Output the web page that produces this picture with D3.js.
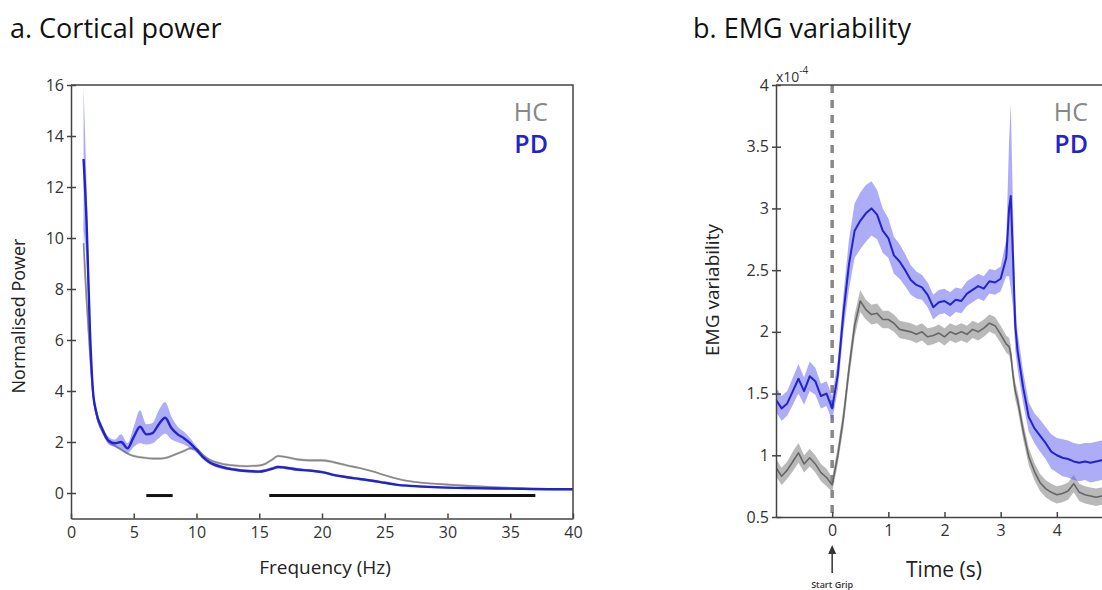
<!DOCTYPE html>
<html>
<head>
<meta charset="utf-8">
<script src="https://cdn.jsdelivr.net/npm/d3@7"></script>
<style>
  body { margin: 0; background: #fff; }
  text { font-family: "Open Sans", sans-serif; }
</style>
</head>
<body>
<svg id="fig" width="1102" height="590"></svg>
<script>
// a. cortical power spectrum
var freqHz = [1, 1.25, 1.5, 1.75, 2, 2.5, 3, 3.5, 4, 4.5, 5, 5.5, 6, 6.5, 7, 7.5, 8, 8.5, 9, 9.5, 10, 10.5, 11, 12, 13, 14, 15, 15.5, 16, 16.5, 17, 18, 19, 20, 21, 22, 23, 24, 25, 26, 27, 28, 30, 32, 35, 38, 40];
var pdPower = [13.1, 10.5, 6.5, 4.0, 3.2, 2.5, 2.05, 1.95, 2.0, 1.75, 2.2, 2.6, 2.3, 2.35, 2.7, 2.95, 2.55, 2.3, 2.15, 1.95, 1.7, 1.42, 1.22, 1.02, 0.92, 0.86, 0.84, 0.88, 0.95, 1.02, 1.0, 0.92, 0.88, 0.82, 0.7, 0.62, 0.55, 0.48, 0.4, 0.32, 0.28, 0.25, 0.21, 0.19, 0.17, 0.15, 0.15];
var pdPowerErr = [2.8, 1.5, 0.7, 0.3, 0.2, 0.15, 0.15, 0.15, 0.3, 0.2, 0.4, 0.65, 0.4, 0.4, 0.55, 0.62, 0.45, 0.3, 0.25, 0.2, 0.12, 0.1, 0.08, 0.07, 0.06, 0.06, 0.06, 0.06, 0.06, 0.06, 0.06, 0.06, 0.05, 0.05, 0.05, 0.05, 0.05, 0.05, 0.05, 0.04, 0.04, 0.04, 0.04, 0.04, 0.04, 0.04, 0.04];
var hcPower = [9.8, 7.5, 5.5, 3.9, 3.1, 2.4, 2.0, 1.85, 1.7, 1.55, 1.45, 1.4, 1.37, 1.35, 1.35, 1.37, 1.45, 1.55, 1.65, 1.75, 1.72, 1.5, 1.32, 1.15, 1.08, 1.05, 1.08, 1.15, 1.3, 1.45, 1.42, 1.32, 1.28, 1.28, 1.2, 1.08, 0.98, 0.85, 0.7, 0.56, 0.46, 0.4, 0.33, 0.27, 0.2, 0.16, 0.15];
var hcPowerErr = [1.0, 0.6, 0.3, 0.15, 0.1, 0.06, 0.05, 0.05, 0.05, 0.05, 0.05, 0.05, 0.05, 0.05, 0.05, 0.05, 0.05, 0.05, 0.05, 0.05, 0.05, 0.05, 0.05, 0.05, 0.05, 0.05, 0.05, 0.05, 0.05, 0.05, 0.05, 0.05, 0.05, 0.05, 0.05, 0.05, 0.04, 0.04, 0.04, 0.04, 0.04, 0.04, 0.04, 0.04, 0.04, 0.04, 0.04];
var sigBands = [[6.0, 8.1], [15.8, 37.0]];
var powerTicks = [0, 2, 4, 6, 8, 10, 12, 14, 16];
var freqTicks = [0, 5, 10, 15, 20, 25, 30, 35, 40];

// b. EMG variability (x10^-4)
var timeSec = [-1.0, -0.9, -0.8, -0.7, -0.6, -0.5, -0.4, -0.3, -0.2, -0.1, 0.0, 0.1, 0.2, 0.3, 0.4, 0.5, 0.6, 0.7, 0.8, 0.9, 1.0, 1.1, 1.2, 1.3, 1.4, 1.5, 1.6, 1.7, 1.8, 1.9, 2.0, 2.1, 2.2, 2.3, 2.4, 2.5, 2.6, 2.7, 2.8, 2.9, 3.0, 3.1, 3.15, 3.18, 3.22, 3.26, 3.3, 3.4, 3.5, 3.6, 3.7, 3.8, 3.9, 4.0, 4.1, 4.2, 4.3, 4.4, 4.5, 4.6, 4.7, 4.8, 4.9];
var pdEmg = [1.45, 1.38, 1.42, 1.52, 1.62, 1.52, 1.64, 1.6, 1.48, 1.5, 1.38, 1.65, 2.15, 2.55, 2.82, 2.9, 2.96, 3.0, 2.95, 2.82, 2.76, 2.62, 2.57, 2.5, 2.42, 2.38, 2.36, 2.3, 2.2, 2.24, 2.25, 2.22, 2.26, 2.25, 2.31, 2.34, 2.37, 2.35, 2.41, 2.4, 2.43, 2.6, 3.0, 3.1, 2.6, 2.05, 1.85, 1.55, 1.31, 1.22, 1.16, 1.1, 1.03, 1.0, 0.98, 0.97, 0.95, 0.94, 0.95, 0.94, 0.95, 0.96, 0.95];
var pdEmgErr = [0.1, 0.1, 0.1, 0.11, 0.12, 0.11, 0.12, 0.11, 0.1, 0.1, 0.1, 0.12, 0.15, 0.2, 0.22, 0.23, 0.23, 0.22, 0.2, 0.18, 0.16, 0.15, 0.14, 0.13, 0.12, 0.11, 0.1, 0.1, 0.1, 0.1, 0.1, 0.1, 0.1, 0.1, 0.1, 0.1, 0.1, 0.1, 0.1, 0.1, 0.1, 0.15, 0.55, 0.75, 0.4, 0.2, 0.15, 0.13, 0.12, 0.12, 0.13, 0.13, 0.14, 0.14, 0.15, 0.15, 0.15, 0.15, 0.15, 0.16, 0.16, 0.16, 0.16];
var hcEmg = [0.9, 0.83, 0.88, 0.95, 1.02, 0.93, 0.98, 0.93, 0.86, 0.82, 0.76, 1.0, 1.3, 1.7, 2.05, 2.25, 2.18, 2.14, 2.15, 2.1, 2.1, 2.07, 2.02, 2.01, 2.0, 1.98, 2.0, 1.96, 1.97, 1.99, 1.96, 2.0, 1.98, 2.0, 1.98, 2.02, 2.0, 2.03, 2.07, 2.05, 1.98, 1.9, 1.88, 1.82, 1.65, 1.52, 1.45, 1.2, 0.99, 0.87, 0.78, 0.73, 0.7, 0.68, 0.69, 0.71, 0.77, 0.7, 0.68, 0.67, 0.66, 0.67, 0.66];
var hcEmgErr = [0.07, 0.07, 0.07, 0.08, 0.08, 0.07, 0.07, 0.07, 0.07, 0.07, 0.06, 0.07, 0.08, 0.08, 0.09, 0.09, 0.08, 0.08, 0.08, 0.07, 0.07, 0.07, 0.07, 0.07, 0.07, 0.07, 0.07, 0.07, 0.07, 0.07, 0.07, 0.07, 0.07, 0.07, 0.07, 0.07, 0.07, 0.07, 0.07, 0.07, 0.07, 0.07, 0.07, 0.07, 0.07, 0.07, 0.07, 0.07, 0.07, 0.07, 0.07, 0.07, 0.07, 0.07, 0.07, 0.07, 0.07, 0.07, 0.07, 0.07, 0.07, 0.07, 0.07];
var emgTicks = [0.5, 1, 1.5, 2, 2.5, 3, 3.5, 4];
var timeTicks = [0, 1, 2, 3, 4];

var blue = "#2323cc", blueBand = "#5a5af0";
var grey = "#777", greyBand = "#8a8a8a";
var axisCol = "#444", labelCol = "#333";

var svg = d3.select("#fig");

function rows(xs, ms, es) {
  return xs.map(function(x, i) { return {x: x, m: ms[i], e: es[i]}; });
}

function styleAxis(g) {
  g.selectAll("path, line").attr("stroke", axisCol).attr("stroke-width", 1.5);
  g.selectAll("text").attr("fill", labelCol).style("font-size", "16px");
}

function drawSeries(g, x, y, data, lineCol, bandCol, bandOp, lw, curve) {
  var area = d3.area()
      .x(function(d) { return x(d.x); })
      .y0(function(d) { return y(d.m - d.e); })
      .y1(function(d) { return y(d.m + d.e); })
      .curve(curve);
  var line = d3.line()
      .x(function(d) { return x(d.x); })
      .y(function(d) { return y(d.m); })
      .curve(curve);
  g.append("path").datum(data).attr("d", area)
      .attr("fill", bandCol).attr("fill-opacity", bandOp);
  return function() {
    g.append("path").datum(data).attr("d", line)
        .attr("fill", "none").attr("stroke", lineCol).attr("stroke-width", lw)
        .attr("stroke-linejoin", "round");
  };
}

function legend(xRight) {
  svg.append("text").attr("x", xRight).attr("y", 121).attr("text-anchor", "end")
      .attr("fill", "#888").style("font-size", "25px").text("HC");
  svg.append("text").attr("x", xRight).attr("y", 153).attr("text-anchor", "end")
      .attr("fill", blue).style("font-size", "25px").style("font-weight", 600).text("PD");
}

// ---------- panel a ----------
var xa = d3.scaleLinear().domain([0, 40]).range([71, 573]);
var ya = d3.scaleLinear().domain([-1, 16]).range([518.5, 85]);

svg.append("clipPath").attr("id", "clipA").append("rect")
    .attr("x", xa(0)).attr("y", ya(16)).attr("width", xa(40) - xa(0)).attr("height", ya(-1) - ya(16));
var pa = svg.append("g").attr("clip-path", "url(#clipA)");

var hcLineA = drawSeries(pa, xa, ya, rows(freqHz, hcPower, hcPowerErr), "#888", greyBand, 0.4, 1.6, d3.curveMonotoneX);
hcLineA();
var pdLineA = drawSeries(pa, xa, ya, rows(freqHz, pdPower, pdPowerErr), blue, blueBand, 0.5, 2.4, d3.curveMonotoneX);
pdLineA();

pa.selectAll(".sig").data(sigBands).enter().append("line")
    .attr("x1", function(d) { return xa(d[0]); })
    .attr("x2", function(d) { return xa(d[1]); })
    .attr("y1", ya(-0.1)).attr("y2", ya(-0.1))
    .attr("stroke", "#111").attr("stroke-width", 3);

// box
svg.append("path")
    .attr("d", "M" + xa(0) + "," + ya(16) + "H" + xa(40) + "V" + ya(-1))
    .attr("fill", "none").attr("stroke", axisCol).attr("stroke-width", 1.5);

var yAxisA = svg.append("g").attr("transform", "translate(" + xa(0) + ",0)")
    .call(d3.axisLeft(ya).tickValues(powerTicks).tickSizeInner(4).tickSizeOuter(0).tickPadding(3));
yAxisA.selectAll(".tick").append("line").attr("x2", 5);
styleAxis(yAxisA);

var xAxisA = svg.append("g").attr("transform", "translate(0," + ya(-1) + ")")
    .call(d3.axisBottom(xa).tickValues(freqTicks).tickSizeInner(-5).tickSizeOuter(0).tickPadding(8));
styleAxis(xAxisA);

svg.append("text").attr("x", 10).attr("y", 38).style("font-size", "27px").style("font-weight", 500)
    .attr("fill", "#111").text("a. Cortical power");
svg.append("text").attr("transform", "translate(25,316) rotate(-90)").attr("text-anchor", "middle")
    .style("font-size", "18px").attr("fill", "#222").text("Normalised Power");
svg.append("text").attr("x", 325).attr("y", 574).attr("text-anchor", "middle")
    .style("font-size", "19px").attr("fill", "#222").text("Frequency (Hz)");
legend(548);

// ---------- panel b ----------
var xb = d3.scaleLinear().domain([-1, 5]).range([776, 1113]);
var yb = d3.scaleLinear().domain([0.5, 4]).range([517, 85]);

svg.append("clipPath").attr("id", "clipB").append("rect")
    .attr("x", xb(-1)).attr("y", yb(4)).attr("width", xb(5) - xb(-1)).attr("height", yb(0.5) - yb(4));
var pb = svg.append("g").attr("clip-path", "url(#clipB)");

pb.append("line")
    .attr("x1", xb(0)).attr("x2", xb(0)).attr("y1", yb(4)).attr("y2", yb(0.5))
    .attr("stroke", "#888").attr("stroke-width", 3.5).attr("stroke-dasharray", "8,7");

var hcLineB = drawSeries(pb, xb, yb, rows(timeSec, hcEmg, hcEmgErr), "#666", greyBand, 0.6, 1.6, d3.curveLinear);
var pdLineB = drawSeries(pb, xb, yb, rows(timeSec, pdEmg, pdEmgErr), blue, blueBand, 0.5, 2, d3.curveLinear);
hcLineB();
pdLineB();

svg.append("path")
    .attr("d", "M" + xb(-1) + "," + yb(4) + "H1102")
    .attr("fill", "none").attr("stroke", axisCol).attr("stroke-width", 1.5);

var yAxisB = svg.append("g").attr("transform", "translate(" + xb(-1) + ",0)")
    .call(d3.axisLeft(yb).tickValues(emgTicks).tickFormat(d3.format("~g"))
      .tickSizeInner(4).tickSizeOuter(0).tickPadding(3));
yAxisB.selectAll(".tick").append("line").attr("x2", 5);
styleAxis(yAxisB);

var xAxisB = svg.append("g").attr("transform", "translate(0," + yb(0.5) + ")")
    .call(d3.axisBottom(xb).tickValues(timeTicks).tickFormat(d3.format("d"))
      .tickSizeInner(-5).tickSizeOuter(0).tickPadding(8));
styleAxis(xAxisB);

var expo = svg.append("text").attr("x", 776).attr("y", 82).attr("fill", labelCol).style("font-size", "14px");
expo.append("tspan").text("x10");
expo.append("tspan").attr("dy", -8).style("font-size", "10px").text("-4");

svg.append("text").attr("x", 693).attr("y", 38).style("font-size", "27px").style("font-weight", 500)
    .attr("fill", "#111").text("b. EMG variability");
svg.append("text").attr("transform", "translate(719,290) rotate(-90)").attr("text-anchor", "middle")
    .style("font-size", "19px").attr("fill", "#222").text("EMG variability");
svg.append("text").attr("x", 944).attr("y", 577).attr("text-anchor", "middle")
    .style("font-size", "21px").attr("fill", "#222").text("Time (s)");

// start grip marker
svg.append("line").attr("x1", xb(0)).attr("x2", xb(0)).attr("y1", 552).attr("y2", 573)
    .attr("stroke", "#333").attr("stroke-width", 1.5);
svg.append("path")
    .attr("d", "M" + xb(0) + ",545L" + (xb(0) - 4) + ",554L" + (xb(0) + 4) + ",554Z")
    .attr("fill", "#333");
svg.append("text").attr("x", xb(0)).attr("y", 588).attr("text-anchor", "middle")
    .style("font-size", "9px").style("font-weight", 600).attr("fill", "#333").text("Start Grip");
legend(1088);
</script>
</body>
</html>
